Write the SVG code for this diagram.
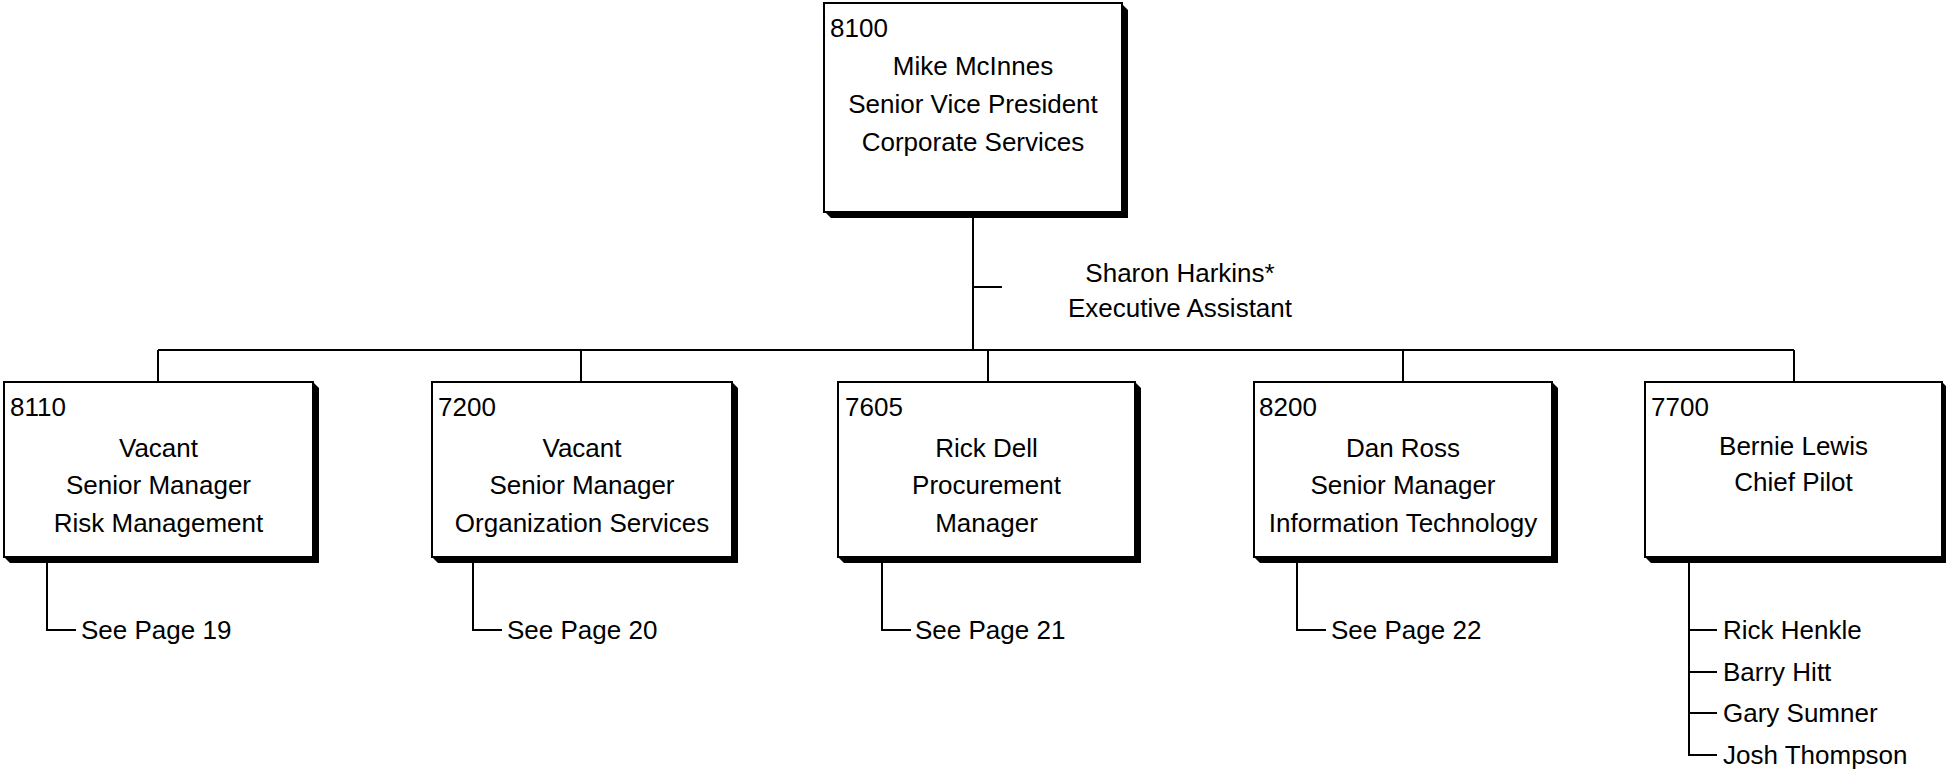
<svg xmlns="http://www.w3.org/2000/svg" width="1946" height="769" viewBox="0 0 1946 769">
<style>
text{font-family:"Liberation Sans",Arial,sans-serif;font-size:26px;fill:#000}
.c{text-anchor:middle}
.box{fill:#fff;stroke:#000;stroke-width:2}
.sh{fill:#000}
.ln{fill:none;stroke:#000;stroke-width:2}
</style>
<rect x="0" y="0" width="1946" height="769" fill="#fff"/>
<g id="connectors">
<path class="ln" d="M973 213V350M973 287H1002M158 350H1794M158 350V382M581 350V382M988 350V382M1403 350V382M1794 350V382"/>
<path class="ln" d="M47 558V630H76M473 558V630H502M882 558V630H911M1297 558V630H1326"/>
<path class="ln" d="M1689 558V755H1717M1689 630H1717M1689 672H1717M1689 713H1717"/>
</g>
<g id="n8100">
<path class="sh" d="M1123 5L1128 10V218H831L826 213H1123Z"/>
<rect class="box" x="824" y="3" width="298" height="209"/>
<text x="830" y="37">8100</text>
<text class="c" x="973" y="75">Mike McInnes</text>
<text class="c" x="973" y="113">Senior Vice President</text>
<text class="c" x="973" y="151">Corporate Services</text>
</g>
<g id="sharon">
<text class="c" x="1180" y="282">Sharon Harkins*</text>
<text class="c" x="1180" y="317">Executive Assistant</text>
</g>
<g id="n8110">
<path class="sh" d="M314 383L319 388V563H10L5 558H314Z"/>
<rect class="box" x="4" y="382" width="309" height="175"/>
<text x="10" y="416">8110</text>
<text class="c" x="158.5" y="456.5">Vacant</text>
<text class="c" x="158.5" y="494">Senior Manager</text>
<text class="c" x="158.5" y="532">Risk Management</text>
</g>
<g id="n7200">
<path class="sh" d="M733 383L738 388V563H438L433 558H733Z"/>
<rect class="box" x="432" y="382" width="300" height="175"/>
<text x="438" y="416">7200</text>
<text class="c" x="582" y="456.5">Vacant</text>
<text class="c" x="582" y="494">Senior Manager</text>
<text class="c" x="582" y="532">Organization Services</text>
</g>
<g id="n7605">
<path class="sh" d="M1136 383L1141 388V563H844L839 558H1136Z"/>
<rect class="box" x="838" y="382" width="297" height="175"/>
<text x="845" y="416">7605</text>
<text class="c" x="986.5" y="456.5">Rick Dell</text>
<text class="c" x="986.5" y="494">Procurement</text>
<text class="c" x="986.5" y="532">Manager</text>
</g>
<g id="n8200">
<path class="sh" d="M1553 383L1558 388V563H1260L1255 558H1553Z"/>
<rect class="box" x="1254" y="382" width="298" height="175"/>
<text x="1259" y="416">8200</text>
<text class="c" x="1403" y="456.5">Dan Ross</text>
<text class="c" x="1403" y="494">Senior Manager</text>
<text class="c" x="1403" y="532">Information Technology</text>
</g>
<g id="n7700">
<path class="sh" d="M1943 383L1946 386V563H1651L1646 558H1943Z"/>
<rect class="box" x="1645" y="382" width="297" height="175"/>
<text x="1651" y="416">7700</text>
<text class="c" x="1793.5" y="455">Bernie Lewis</text>
<text class="c" x="1793.5" y="491">Chief Pilot</text>
</g>
<g id="subs">
<text x="81" y="639">See Page 19</text>
<text x="507" y="639">See Page 20</text>
<text x="915" y="639">See Page 21</text>
<text x="1331" y="639">See Page 22</text>
<text x="1723" y="639">Rick Henkle</text>
<text x="1723" y="681">Barry Hitt</text>
<text x="1723" y="722">Gary Sumner</text>
<text x="1723" y="764">Josh Thompson</text>
</g>
</svg>
